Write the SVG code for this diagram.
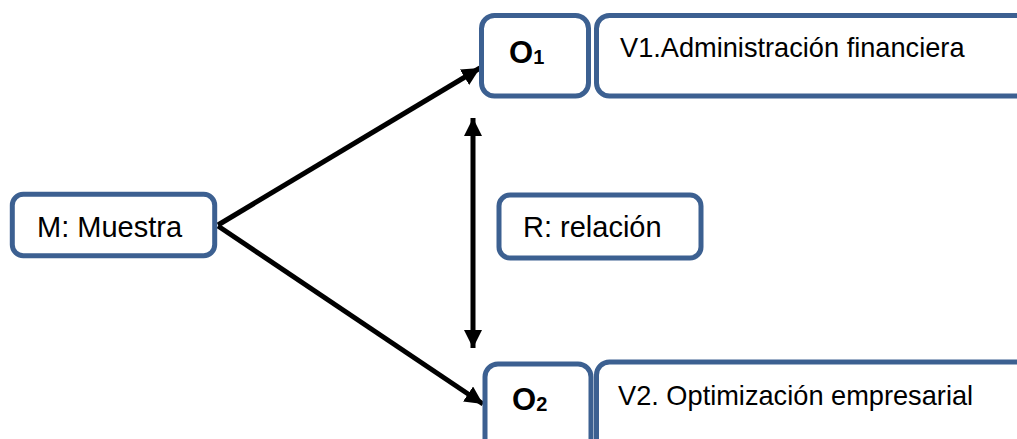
<svg xmlns="http://www.w3.org/2000/svg" width="1017" height="439" viewBox="0 0 1017 439">
  <defs>
    <style>
      .box { fill: #ffffff; stroke: #3C6091; stroke-width: 5; }
      .txt { font-family: "Liberation Sans", Arial, sans-serif; font-size: 29px; fill: #000000; }
      .vtxt { font-family: "Liberation Sans", Arial, sans-serif; font-size: 27.2px; fill: #000000; }
      .obs { font-family: "Liberation Sans", Arial, sans-serif; font-weight: bold; fill: #000000; }
      .conn { stroke: #000000; stroke-width: 5; fill: none; }
    </style>
    <marker id="ah" viewBox="0 0 10 10" refX="10" refY="5" markerWidth="3.6" markerHeight="3.6" orient="auto-start-reverse" markerUnits="strokeWidth">
      <path d="M0,0 L10,5 L0,10 z" fill="#000000"/>
    </marker>
  </defs>

  <g id="connectors">
    <line class="conn" x1="218" y1="225" x2="480" y2="68" marker-end="url(#ah)"/>
    <line class="conn" x1="218" y1="226" x2="483" y2="404" marker-end="url(#ah)"/>
    <line class="conn" x1="473" y1="118" x2="473" y2="348" marker-start="url(#ah)" marker-end="url(#ah)"/>
  </g>

  <g id="node-m">
    <rect class="box" x="12.3" y="194.3" width="202.4" height="61.4" rx="11"/>
    <text class="txt" x="37" y="237">M: Muestra</text>
  </g>

  <g id="node-r">
    <rect class="box" x="499" y="195" width="202" height="63" rx="11"/>
    <text class="txt" x="523" y="237">R: relación</text>
  </g>

  <g id="node-o1">
    <rect class="box" x="481.5" y="15.5" width="107" height="80.5" rx="13"/>
    <text class="obs" x="509" y="63"><tspan font-size="31">O</tspan><tspan font-size="20" dy="1">1</tspan></text>
  </g>

  <g id="node-v1">
    <rect class="box" x="596.5" y="15.5" width="440" height="80.5" rx="13"/>
    <text class="vtxt" x="620" y="57">V1.Administración financiera</text>
  </g>

  <g id="node-o2">
    <rect class="box" x="485" y="364" width="106" height="90" rx="13"/>
    <text class="obs" x="512" y="410"><tspan font-size="31">O</tspan><tspan font-size="20" dy="1">2</tspan></text>
  </g>

  <g id="node-v2">
    <rect class="box" x="596.5" y="362" width="440" height="90" rx="13"/>
    <text class="vtxt" x="618" y="405">V2. Optimización empresarial</text>
  </g>
</svg>
